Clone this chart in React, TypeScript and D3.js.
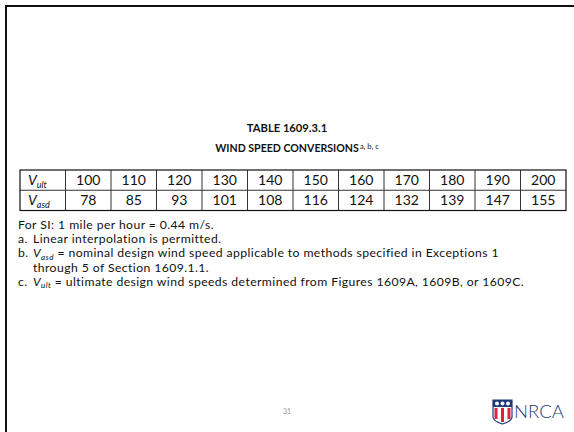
import React from "react";
import * as d3 from "d3";

const ultSpeeds = [100, 110, 120, 130, 140, 150, 160, 170, 180, 190, 200];
const asdSpeeds = [78, 85, 93, 101, 108, 116, 124, 132, 139, 147, 155];
const rowLabels = [
  { main: "V", sub: "ult" },
  { main: "V", sub: "asd" },
];
const titleLine1 = "TABLE 1609.3.1";
const titleLine2 = "WIND SPEED CONVERSIONS";
const titleSup = "a, b, c";
const pageNumber = "31";

const W = 574;
const H = 432;
const FONT = "Lato, 'Open Sans', sans-serif";

export default function App() {
  const columns = ["label", ...ultSpeeds.map((_, i) => String(i))];
  const tableTop = 170;
  const tableBottom = 210.5;
  const x = d3.scaleBand<string>().domain(columns).range([20, 566]);
  const y = d3.scaleBand<string>().domain(["ult", "asd"]).range([tableTop, tableBottom]);
  const rows = [ultSpeeds, asdSpeeds];
  const rowKeys = ["ult", "asd"];
  const bw = x.bandwidth();
  const bh = y.bandwidth();

  return (
    <div style={{ position: "fixed", left: 0, top: 0, width: W, height: H, background: "#fff" }}>
      <svg width={W} height={H} style={{ display: "block" }} fontFamily={FONT}>
        <rect x={0} y={0} width={W} height={H} fill="#fff" />
        {/* slide frame */}
        <path d={`M6,${H} L6,6 L${W},6`} fill="none" stroke="#111" strokeWidth={2} />

        {/* title */}
        <text x={287} y={132} textAnchor="middle" fontSize={11.2} fontWeight="bold" fill="#111">
          {titleLine1}
        </text>
        <text x={287} y={152} textAnchor="middle" fontSize={10.6} fontWeight="bold" fill="#111">
          {titleLine2}
        </text>
        <text x={360} y={148.5} fontSize={7.5} fill="#111">
          {titleSup}
        </text>

        {/* table */}
        <g>
          {rowKeys.map((rk, ri) => (
            <g key={rk}>
              <text x={(x("label") as number) + 8} y={(y(rk) as number) + bh / 2 + 5} fontSize={14} fill="#111">
                <tspan fontStyle="italic">{rowLabels[ri].main}</tspan>
                <tspan fontStyle="italic" fontSize={9} dy={3}>
                  {rowLabels[ri].sub}
                </tspan>
              </text>
              {rows[ri].map((v, ci) => (
                <text
                  key={ci}
                  x={(x(String(ci)) as number) + bw / 2}
                  y={(y(rk) as number) + bh / 2 + 5}
                  textAnchor="middle"
                  fontSize={14}
                  fill="#111"
                >
                  {v}
                </text>
              ))}
            </g>
          ))}
          {/* grid lines */}
          {columns.slice(1).map((c) => (
            <line
              key={c}
              x1={x(c) as number}
              x2={x(c) as number}
              y1={tableTop}
              y2={tableBottom}
              stroke="#333"
              strokeWidth={1}
            />
          ))}
          <line x1={20} x2={566} y1={y("asd") as number} y2={y("asd") as number} stroke="#333" strokeWidth={1} />
          <rect x={20} y={tableTop} width={546} height={tableBottom - tableTop} fill="none" stroke="#111" strokeWidth={1.2} />
        </g>

        {/* notes */}
        <g fontSize={12.2} fill="#111" letterSpacing={0.42}>
          <text x={18} y={229}>For SI: 1 mile per hour = 0.44 m/s.</text>
          <text x={18} y={243.2}>
            a.<tspan x={33}>Linear interpolation is permitted.</tspan>
          </text>
          <text x={18} y={257.4}>
            b.
            <tspan x={33} fontStyle="italic">V</tspan>
            <tspan fontStyle="italic" fontSize={8} dy={2.5}>asd</tspan>
            <tspan dy={-2.5}> = nominal design wind speed applicable to methods specified in Exceptions 1</tspan>
          </text>
          <text x={33} y={271.6}>through 5 of Section 1609.1.1.</text>
          <text x={18} y={285.8}>
            c.
            <tspan x={33} fontStyle="italic">V</tspan>
            <tspan fontStyle="italic" fontSize={8} dy={2.5}>ult</tspan>
            <tspan dy={-2.5}> = ultimate design wind speeds determined from Figures 1609A, 1609B, or 1609C.</tspan>
          </text>
        </g>

        {/* page number */}
        <text x={287} y={414} textAnchor="middle" fontSize={7} fill="#999">
          {pageNumber}
        </text>

        {/* logo */}
        <g transform="translate(493,400)">
          <path d="M0,0 H19 V17 Q19,21 9.5,24 Q0,21 0,17 Z" fill="#fff" stroke="#1f3a78" strokeWidth={1.2} />
          <rect x={0} y={0} width={19} height={7} fill="#1f3a78" />
          <circle cx={4} cy={3.5} r={2} fill="#fff" />
          <circle cx={9.5} cy={3.5} r={2} fill="#fff" />
          <circle cx={15} cy={3.5} r={2} fill="#fff" />
          <rect x={1.5} y={8} width={3} height={11} fill="#d7263d" />
          <rect x={8} y={8} width={3} height={14} fill="#d7263d" />
          <rect x={14.5} y={8} width={3} height={11} fill="#d7263d" />
        </g>
        <text x={514} y={418} fontSize={18.5} fill="#1f3a78" fontFamily="Lato, sans-serif" fontWeight={300}>
          NRCA
        </text>
      </svg>
    </div>
  );
}
